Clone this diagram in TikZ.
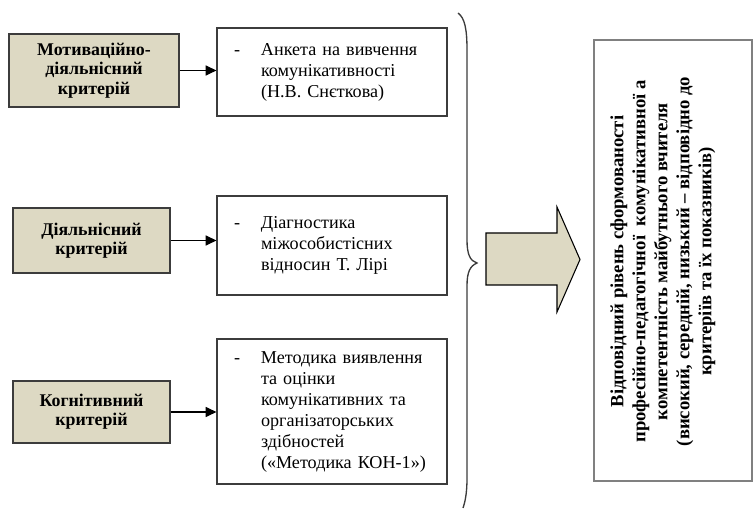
\documentclass[tikz,border=0pt]{standalone}
\usepackage{fontspec}
\setmainfont{Liberation Serif}
\usetikzlibrary{arrows.meta, positioning, calc}
\definecolor{tan}{RGB}{221, 217, 195}
\definecolor{boxline}{RGB}{60, 60, 60}
\definecolor{resline}{RGB}{128, 128, 128}

\begin{document}
\begin{tikzpicture}[x=0.75pt, y=-0.75pt,
        crit/.style={draw=boxline, line width=1.1pt, fill=tan, align=center, font=\fontsize{13.4}{14.5}\selectfont\bfseries},
        meth/.style={draw=boxline, line width=0.9pt, fill=white, minimum width=172.5pt, text width=147pt, inner xsep=12.75pt, align=left, font=\fontsize{13.6}{15.75}\selectfont},
        resbox/.style={draw=resline, line width=1.1pt, minimum width=118.5pt, minimum height=330.75pt},
        restext/.style={align=center, font=\fontsize{14}{16.5}\selectfont\bfseries},
        arr/.style={-{Triangle[length=8pt, width=7.5pt]}, line width=0.9pt}
    ]
    \useasboundingbox (0,0) rectangle (754,509);

    % Criteria
    \node[crit, minimum width=127.5pt, minimum height=54.75pt] (crit1) at (94, 70.5) {Мотиваційно-\\діяльнісний\\критерій};
    \node[crit, minimum width=117.75pt, minimum height=48.75pt] (crit2) at (91.5, 240.5) {Діяльнісний\\критерій};
    \node[crit, minimum width=117.75pt, minimum height=46.5pt] (crit3) at (91.5, 412) {Когнітивний\\критерій};

    % Methods
    \node[meth, minimum height=66pt] (meth1) at (332, 72) {\begin{tabular}{@{}p{20.25pt}@{}l@{}}
        - & Анкета на вивчення\\ & комунікативності\\ & (Н.В. Снєткова)\end{tabular}};
    \node[meth, minimum height=74.25pt] (meth2) at (332, 245.5) {\begin{tabular}{@{}p{20.25pt}@{}l@{}}
        - & Діагностика\\ & міжособистісних\\ & відносин Т. Лірі\end{tabular}};
    \node[meth, minimum height=108.75pt] (meth3) at (332, 411.5) {\begin{tabular}{@{}p{20.25pt}@{}l@{}}
        - & Методика виявлення\\ & та оцінки\\ & комунікативних та\\ & організаторських\\ & здібностей\\ & («Методика КОН-1»)\end{tabular}};

    % Arrows
    \draw[arr] (crit1.east) -- (crit1.east -| meth1.west);
    \draw[arr] (crit2.east) -- (crit2.east -| meth2.west);
    \draw[arr] (crit3.east) -- (crit3.east -| meth3.west);

    % Brace
    \draw[boxline, line width=1pt] (458, 13) .. controls (465, 18) and (467, 30) .. (467, 50) -- (467, 240)
        .. controls (467, 254) and (470, 261) .. (477, 263)
        .. controls (470, 266) and (467, 272) .. (467, 286) -- (467, 478)
        .. controls (467, 494) and (465, 502) .. (463, 508);

    % Block arrow
    \draw[fill=tan, line width=0.8pt] (486, 233) -- (557, 233) -- (557, 207) -- (580, 259.5)
        -- (557, 312) -- (557, 285) -- (486, 285) -- cycle;

    % Result
    \node[resbox] (resbox) at (673, 260.5) {};
    \node[restext, rotate=90] (res) at ($(resbox.center)+(-10, 1)$) {Відповідний рівень сформованості\\
        професійно-педагогічної\ \ комунікативної а\\
        компетентність майбутнього вчителя\\
        (високий, середній, низький – відповідно до\\
        критеріїв та їх показників)};
\end{tikzpicture}
\end{document}
